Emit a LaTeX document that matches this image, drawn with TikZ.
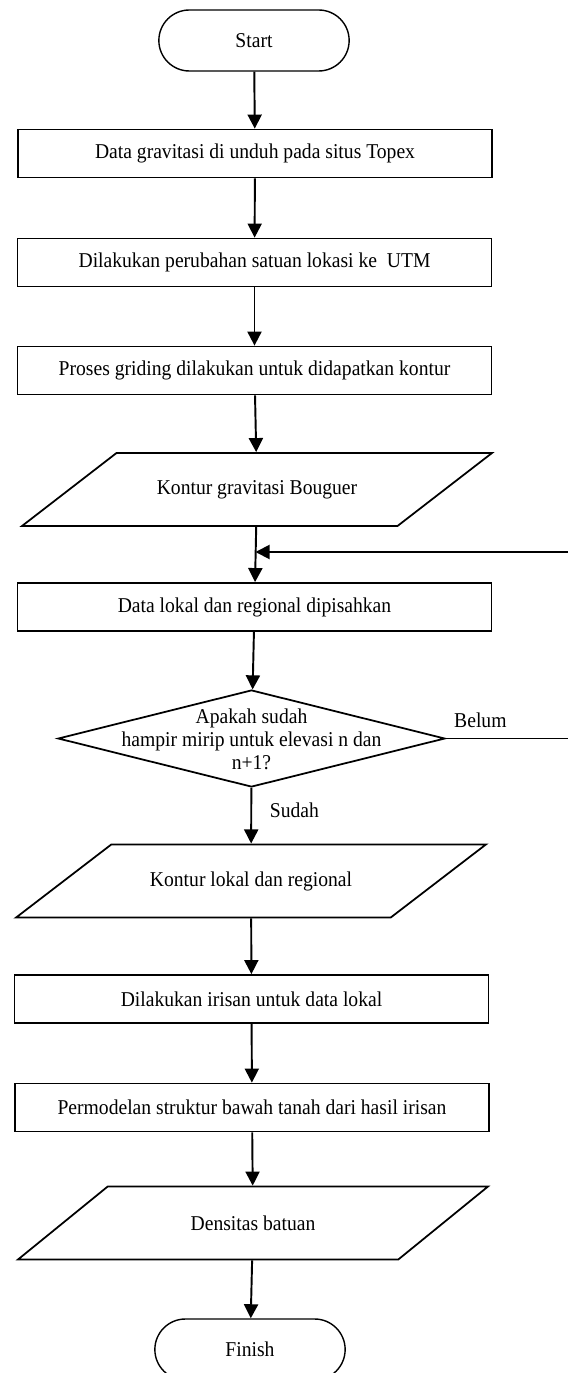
\documentclass[tikz,border=0pt]{standalone}
\usepackage{fontspec}
\setmainfont{Liberation Serif}[FakeStretch=0.93]
\usetikzlibrary{arrows.meta,shapes.geometric,shapes.misc,positioning}

\tikzset{
  line/.style={line width=1.1pt, draw=black},
  arrow/.style={line, -{Triangle[length=8pt,width=8pt]}},
  terminal/.style={rounded rectangle, draw, line width=0.8pt, minimum width=4.04cm, minimum height=1.22cm},
  process/.style={rectangle, draw, line width=1pt, minimum width=9.48cm, minimum height=0.96cm, inner sep=0pt},
  io/.style={trapezium, trapezium left angle=37.5, trapezium right angle=142.5, trapezium stretches body, draw, line width=1pt, minimum width=9.4cm, minimum height=1.46cm, inner xsep=0pt, inner ysep=0.54cm},
  decision/.style={diamond, draw, line width=1pt, minimum width=7.74cm, minimum height=1.94cm, inner sep=0pt},
  lbl/.style={inner sep=0pt}
}

\begin{document}
\begin{tikzpicture}[every node/.style={font=\fontsize{12}{13}\selectfont}]
		\useasboundingbox (0,0) rectangle (11.34,-27.46); % page size
		\node[terminal] (start) at (5.08,-0.81) {Start};
		\node[process] (unduh) at (5.1,-3.07) {Data gravitasi di unduh pada situs Topex};
		\node[process] (utm) at (5.09,-5.25) {Dilakukan perubahan satuan lokasi ke\ \ UTM};
		\node[process] (grid) at (5.09,-7.41) {Proses griding dilakukan untuk didapatkan kontur};
		\node[io] (bouguer) at (5.14,-9.79) {Kontur gravitasi Bouguer};
		\node[process] (pisah) at (5.09,-12.14) {Data lokal dan regional dipisahkan};
		\node[decision] (cek) at (5.03,-14.77) {};
		\node[lbl, align=center] (cektext) at (5.03,-14.79) {Apakah sudah\\hampir mirip untuk elevasi n dan\\n+1?};
		\node[io] (kontur) at (5.02,-17.62) {Kontur lokal dan regional};
		\node[process] (irisan) at (5.03,-19.98) {Dilakukan irisan untuk data lokal};
		\node[process] (model) at (5.04,-22.15) {Permodelan struktur bawah tanah dari hasil irisan};
		\node[io] (densitas) at (5.06,-24.46) {Densitas batuan};
		\node[terminal] (finish) at (5.0,-26.99) {Finish};

		\node[lbl, above right=0.2cm and 0.16cm of cek.east] (belum) {Belum};
		\node[lbl, below right=0.3cm and 0.36cm of cek.south] (sudah) {Sudah};

		\coordinate (back) at (11.6,-11.04); % loop corner, off the page
		\coordinate (join) at (5.11,-11.04);

		\draw[arrow] (start) -- (unduh);
		\draw[arrow] (unduh) -- (utm);
		\draw[arrow] (utm) -- (grid);
		\draw[arrow] (grid) -- (bouguer);
		\draw[arrow] (bouguer) -- (pisah);
		\draw[arrow] (pisah) -- (cek);
		\draw[arrow] (cek) -- (kontur);
		\draw[arrow] (kontur) -- (irisan);
		\draw[arrow] (irisan) -- (model);
		\draw[arrow] (model) -- (densitas);
		\draw[arrow] (densitas) -- (finish);
		\draw[arrow] (cek.east) -| (back) -- (join);
\end{tikzpicture}
\end{document}
